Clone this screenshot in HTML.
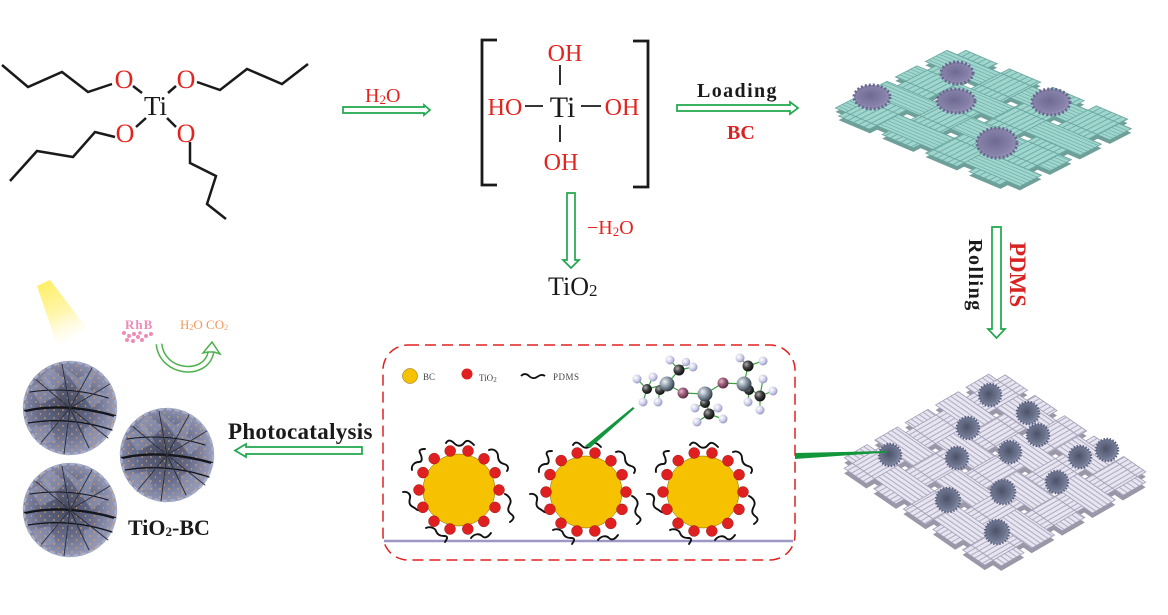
<!DOCTYPE html>
<html><head><meta charset="utf-8"><style>
html,body{margin:0;padding:0;background:#fff;}
body{width:1168px;height:615px;overflow:hidden;}
svg{display:block;font-family:"Liberation Serif",serif;}
</style></head><body>
<svg width="1168" height="615" viewBox="0 0 1168 615" xmlns="http://www.w3.org/2000/svg">
<defs>
  <pattern id="tH" patternUnits="userSpaceOnUse" width="10" height="3"><rect width="10" height="3" fill="#9fd6ce"/><rect y="2.3" width="10" height="0.7" fill="#72afa8"/></pattern>
  <pattern id="tV" patternUnits="userSpaceOnUse" width="3" height="10"><rect width="3" height="10" fill="#9fd6ce"/><rect x="2.3" width="0.7" height="10" fill="#72afa8"/></pattern>
  <pattern id="bH" patternUnits="userSpaceOnUse" width="10" height="2.6"><rect width="10" height="2.6" fill="#e8e5f2"/><rect y="1.95" width="10" height="0.65" fill="#aeabbe"/></pattern>
  <pattern id="bV" patternUnits="userSpaceOnUse" width="2.6" height="10"><rect width="2.6" height="10" fill="#e8e5f2"/><rect x="1.95" width="0.65" height="10" fill="#aeabbe"/></pattern>
  <pattern id="dots" patternUnits="userSpaceOnUse" width="9" height="8"><circle cx="2" cy="2" r="0.8" fill="#e8a866"/><circle cx="6.5" cy="6" r="0.7" fill="#e0a060"/></pattern>
  <radialGradient id="ballG" cx="45%" cy="48%" r="55%"><stop offset="0" stop-color="#464b60"/><stop offset="0.55" stop-color="#666c8a"/><stop offset="1" stop-color="#989ebb"/></radialGradient>
  <radialGradient id="siG" cx="35%" cy="35%" r="65%"><stop offset="0" stop-color="#f0f4f8"/><stop offset="0.5" stop-color="#8c9aa8"/><stop offset="1" stop-color="#3a4450"/></radialGradient>
  <radialGradient id="cG" cx="35%" cy="35%" r="65%"><stop offset="0" stop-color="#b0b0b0"/><stop offset="0.5" stop-color="#404040"/><stop offset="1" stop-color="#101010"/></radialGradient>
  <radialGradient id="oG" cx="35%" cy="35%" r="65%"><stop offset="0" stop-color="#e6b8cc"/><stop offset="0.5" stop-color="#9c5c7a"/><stop offset="1" stop-color="#5a3045"/></radialGradient>
  <radialGradient id="hG" cx="35%" cy="35%" r="65%"><stop offset="0" stop-color="#ffffff"/><stop offset="0.6" stop-color="#cfcfea"/><stop offset="1" stop-color="#9a9ac6"/></radialGradient>
  <radialGradient id="clG" cx="45%" cy="45%" r="60%"><stop offset="0" stop-color="#6e6a92"/><stop offset="0.7" stop-color="#8682aa"/><stop offset="1" stop-color="#9c98bc"/></radialGradient>
  <radialGradient id="cl2G" cx="45%" cy="45%" r="60%"><stop offset="0" stop-color="#4c5268"/><stop offset="0.7" stop-color="#707892"/><stop offset="1" stop-color="#9aa0b8"/></radialGradient>
  <linearGradient id="beam" x1="44" y1="284" x2="72" y2="345" gradientUnits="userSpaceOnUse"><stop offset="0" stop-color="#ffef6a"/><stop offset="0.5" stop-color="#fff6b0"/><stop offset="1" stop-color="#fffbe8" stop-opacity="0"/></linearGradient>

  <g id="ball">
    <circle r="47" fill="url(#ballG)"/>
    <path d="M-10,-44 L8,-30 L26,-38 L20,-18 L38,-14 L22,0 Z" fill="#959bb8" opacity="0.6"/>
    <path d="M-40,-20 L-22,-30 L-12,-12 L-30,-4 Z" fill="#959bb8" opacity="0.55"/>
    <path d="M-38,20 L-20,16 L-14,34 L-30,36 Z" fill="#959bb8" opacity="0.55"/>
    <path d="M14,20 L32,16 L30,34 L14,38 Z" fill="#959bb8" opacity="0.5"/>
    <path d="M-20,-40 L-4,-28 L-16,-16 L-30,-30 Z" fill="#a0a6c2" opacity="0.5"/>
    <circle r="47" fill="url(#dots)"/>
    <g stroke="#15161c" fill="none" stroke-linecap="round">
      <path d="M-45,3 Q-5,-6 45,8" stroke-width="2.4"/>
      <path d="M-42,15 Q0,8 42,22" stroke-width="1.3"/>
      <path d="M-40,-16 Q0,-22 38,-10" stroke-width="1.1"/>
      <path d="M0,0 L-8,-44 M0,0 L22,-40 M0,0 L40,-24 M0,0 L-36,-30 M0,0 L-30,36 M0,0 L-6,46 M0,0 L20,42 M0,0 L38,30" stroke-width="0.9" stroke="#2a2d3a"/>
    </g>
    <circle r="46" fill="none" stroke="#a8aec8" stroke-width="2.5" stroke-dasharray="5 3"/>
  </g>

  <g id="part">
    <g fill="none" stroke="#111" stroke-width="1.9" stroke-linecap="round">
      <path d="M-13,-47 c3,-5 7,-1 9,1 s6,3 9,-1 s6,-2 10,2"/>
      <path d="M30,-40 c5,-2 9,2 9,6 s2,7 6,8 s5,4 3,7"/>
      <path d="M46,4 c4,2 7,6 5,10 s-3,7 1,10 s3,5 -1,8"/>
      <path d="M12,48 c3,-4 8,-5 11,-2 s6,1 9,-3"/>
      <path d="M-33,38 c4,-2 9,0 10,3 s3,5 8,5 s3,3 1,6"/>
      <path d="M-56,2 c4,-1 8,2 7,6 s-1,7 3,9 s4,4 7,3"/>
      <path d="M-47,-20 c-1,-5 3,-8 7,-8 s3,-5 1,-9 s3,-4 5,-4"/>
    </g>
    <circle r="36" fill="#f6c200" stroke="#7a6000" stroke-width="0.5"/>
    <g fill="#e02020" stroke="#801010" stroke-width="0.4">
      <circle cx="9" cy="-39" r="5.5"/><circle cx="25" cy="-31.2" r="5.5"/><circle cx="36.1" cy="-17.3" r="5.5"/><circle cx="40" cy="0" r="5.5"/><circle cx="36" cy="17.4" r="5.5"/><circle cx="24.8" cy="31.4" r="5.5"/><circle cx="8.8" cy="39" r="5.5"/><circle cx="-9" cy="39" r="5.5"/><circle cx="-25" cy="31.2" r="5.5"/><circle cx="-36.1" cy="17.3" r="5.5"/><circle cx="-40" cy="0" r="5.5"/><circle cx="-36" cy="-17.4" r="5.5"/><circle cx="-24.8" cy="-31.4" r="5.5"/><circle cx="-8.8" cy="-39" r="5.5"/>
    </g>
  </g>
</defs>

<!-- ===== Top-left molecule ===== -->
<g stroke="#1a1a1a" stroke-width="2.5" fill="none" stroke-linejoin="miter">
  <polyline points="2,65 28,87 62,72 88,92 112,84"/>
  <polyline points="197,82 220,90 247,69 282,84 308,64"/>
  <polyline points="115,137 95,132 73,157 37,151 10,181"/>
  <polyline points="190,142 190,163 216,176 207,204 226,219"/>
  <line x1="133" y1="86" x2="142" y2="93"/>
  <line x1="168" y1="93" x2="176" y2="86"/>
  <line x1="136" y1="127" x2="146" y2="118"/>
  <line x1="167" y1="118" x2="176" y2="127"/>
</g>
<g font-size="26" text-anchor="middle" fill="#e2231e">
  <text x="124" y="88">O</text>
  <text x="186" y="88">O</text>
  <text x="125" y="142">O</text>
  <text x="186" y="142">O</text>
</g>
<text x="155.5" y="115" font-size="27" text-anchor="middle" fill="#1a1a1a">Ti</text>

<!-- H2O arrow -->
<text x="365" y="102" font-size="20" fill="#e2231e">H<tspan font-size="13" dy="2">2</tspan><tspan dy="-2">O</tspan></text>
<polygon points="343,107 424,107 424,105 430,110 424,115 424,113 343,113" fill="#fff" stroke="#1ea84b" stroke-width="1.7"/>

<!-- Ti(OH)4 -->
<g stroke="#1a1a1a" stroke-width="2.8" fill="none">
  <polyline points="497,40 482,40 482,185 497,185"/>
  <polyline points="633,41 648,41 648,187 633,187"/>
</g>
<g stroke="#1a1a1a" stroke-width="1.8">
  <line x1="560" y1="65" x2="560" y2="85"/>
  <line x1="560" y1="125" x2="560" y2="142"/>
  <line x1="525" y1="106" x2="543" y2="106"/>
  <line x1="581" y1="106" x2="601" y2="106"/>
</g>
<g font-size="24" fill="#e2231e">
  <text x="565" y="61" text-anchor="middle">OH</text>
  <text x="505" y="115" text-anchor="middle">HO</text>
  <text x="622" y="115" text-anchor="middle">OH</text>
  <text x="561" y="170" text-anchor="middle">OH</text>
</g>
<text x="562.5" y="117" font-size="30" text-anchor="middle" fill="#1a1a1a">Ti</text>

<!-- down arrow to TiO2 -->
<polygon points="567,193 575,193 575,260 579,260 571,268 563,260 567,260" fill="#fff" stroke="#1ea84b" stroke-width="1.7"/>
<text x="587" y="234" font-size="20" fill="#e2231e">−H<tspan font-size="13" dy="2">2</tspan><tspan dy="-2">O</tspan></text>
<text x="548" y="295" font-size="26" fill="#1a1a1a">TiO<tspan font-size="17" dy="1">2</tspan></text>

<!-- Loading arrow -->
<text x="697" y="97" font-size="20" font-weight="bold" letter-spacing="1.4" fill="#1a1a1a">Loading</text>
<polygon points="677,105 790,105 790,102 798,108 790,114 790,111 677,111" fill="#fff" stroke="#1ea84b" stroke-width="1.7"/>
<text x="727" y="139" font-size="20" font-weight="bold" fill="#d92222">BC</text>

<!-- ===== Top fabric ===== -->
<g transform="translate(0,4) matrix(1.2,-0.62,1.74,0.74,837,112)" fill="#6f9f99">
  <rect x="-3" y="3" width="106" height="18"/><rect x="-3" y="28" width="106" height="18"/><rect x="-3" y="53" width="106" height="18"/><rect x="-3" y="78" width="106" height="18"/>
  <rect x="3" y="-3" width="18" height="106"/><rect x="28" y="-3" width="18" height="106"/><rect x="53" y="-3" width="18" height="106"/><rect x="78" y="-3" width="18" height="106"/>
</g>
<g transform="matrix(1.2,-0.62,1.74,0.74,837,112)" stroke="#6aa59e" stroke-width="0.8">
  <g fill="url(#tH)">
    <rect x="-3" y="3" width="106" height="18" vector-effect="non-scaling-stroke"/><rect x="-3" y="28" width="106" height="18" vector-effect="non-scaling-stroke"/><rect x="-3" y="53" width="106" height="18" vector-effect="non-scaling-stroke"/><rect x="-3" y="78" width="106" height="18" vector-effect="non-scaling-stroke"/>
  </g>
  <g fill="url(#tV)">
    <rect x="3" y="-3" width="18" height="106" vector-effect="non-scaling-stroke"/><rect x="28" y="-3" width="18" height="106" vector-effect="non-scaling-stroke"/><rect x="53" y="-3" width="18" height="106" vector-effect="non-scaling-stroke"/><rect x="78" y="-3" width="18" height="106" vector-effect="non-scaling-stroke"/>
  </g>
  <g fill="url(#tH)">
    <rect x="3" y="3" width="18" height="18" vector-effect="non-scaling-stroke"/><rect x="53" y="3" width="18" height="18" vector-effect="non-scaling-stroke"/>
    <rect x="28" y="28" width="18" height="18" vector-effect="non-scaling-stroke"/><rect x="78" y="28" width="18" height="18" vector-effect="non-scaling-stroke"/>
    <rect x="3" y="53" width="18" height="18" vector-effect="non-scaling-stroke"/><rect x="53" y="53" width="18" height="18" vector-effect="non-scaling-stroke"/>
    <rect x="28" y="78" width="18" height="18" vector-effect="non-scaling-stroke"/><rect x="78" y="78" width="18" height="18" vector-effect="non-scaling-stroke"/>
  </g>
</g>
<g fill="url(#clG)" stroke="#6a668e" stroke-width="3" stroke-dasharray="2 2">
  <ellipse cx="957" cy="73" rx="16" ry="11"/>
  <ellipse cx="872" cy="97" rx="18" ry="12"/>
  <ellipse cx="956" cy="101" rx="19" ry="12"/>
  <ellipse cx="1051" cy="102" rx="19" ry="13"/>
  <ellipse cx="997" cy="143" rx="20" ry="15"/>
</g>

<!-- PDMS / Rolling arrow -->
<polygon points="992,227 1001,227 1001,329 1005,329 996.5,338 988,329 992,329" fill="#fff" stroke="#1ea84b" stroke-width="1.7"/>
<text transform="translate(969,239) rotate(90)" font-size="20" font-weight="bold" letter-spacing="1.5" fill="#1a1a1a">Rolling</text>
<text transform="translate(1010,242) rotate(90)" font-size="23" font-weight="bold" fill="#d92222">PDMS</text>

<!-- ===== Bottom fabric ===== -->
<g transform="translate(0,5) matrix(1.52,-0.88,1.48,1.02,845,463)" fill="#9a98a8">
  <rect x="-3" y="2.5" width="106" height="15"/><rect x="-3" y="22.5" width="106" height="15"/><rect x="-3" y="42.5" width="106" height="15"/><rect x="-3" y="62.5" width="106" height="15"/><rect x="-3" y="82.5" width="106" height="15"/>
  <rect x="2.5" y="-3" width="15" height="106"/><rect x="22.5" y="-3" width="15" height="106"/><rect x="42.5" y="-3" width="15" height="106"/><rect x="62.5" y="-3" width="15" height="106"/><rect x="82.5" y="-3" width="15" height="106"/>
</g>
<g transform="matrix(1.52,-0.88,1.48,1.02,845,463)" stroke="#a29eb4" stroke-width="0.8">
  <g fill="url(#bH)">
    <rect x="-3" y="2.5" width="106" height="15" vector-effect="non-scaling-stroke"/><rect x="-3" y="22.5" width="106" height="15" vector-effect="non-scaling-stroke"/><rect x="-3" y="42.5" width="106" height="15" vector-effect="non-scaling-stroke"/><rect x="-3" y="62.5" width="106" height="15" vector-effect="non-scaling-stroke"/><rect x="-3" y="82.5" width="106" height="15" vector-effect="non-scaling-stroke"/>
  </g>
  <g fill="url(#bV)">
    <rect x="2.5" y="-3" width="15" height="106" vector-effect="non-scaling-stroke"/><rect x="22.5" y="-3" width="15" height="106" vector-effect="non-scaling-stroke"/><rect x="42.5" y="-3" width="15" height="106" vector-effect="non-scaling-stroke"/><rect x="62.5" y="-3" width="15" height="106" vector-effect="non-scaling-stroke"/><rect x="82.5" y="-3" width="15" height="106" vector-effect="non-scaling-stroke"/>
  </g>
  <g fill="url(#bH)">
    <rect x="2.5" y="2.5" width="15" height="15" vector-effect="non-scaling-stroke"/><rect x="42.5" y="2.5" width="15" height="15" vector-effect="non-scaling-stroke"/><rect x="82.5" y="2.5" width="15" height="15" vector-effect="non-scaling-stroke"/>
    <rect x="22.5" y="22.5" width="15" height="15" vector-effect="non-scaling-stroke"/><rect x="62.5" y="22.5" width="15" height="15" vector-effect="non-scaling-stroke"/>
    <rect x="2.5" y="42.5" width="15" height="15" vector-effect="non-scaling-stroke"/><rect x="42.5" y="42.5" width="15" height="15" vector-effect="non-scaling-stroke"/><rect x="82.5" y="42.5" width="15" height="15" vector-effect="non-scaling-stroke"/>
    <rect x="22.5" y="62.5" width="15" height="15" vector-effect="non-scaling-stroke"/><rect x="62.5" y="62.5" width="15" height="15" vector-effect="non-scaling-stroke"/>
    <rect x="2.5" y="82.5" width="15" height="15" vector-effect="non-scaling-stroke"/><rect x="42.5" y="82.5" width="15" height="15" vector-effect="non-scaling-stroke"/><rect x="82.5" y="82.5" width="15" height="15" vector-effect="non-scaling-stroke"/>
  </g>
</g>
<g fill="url(#cl2G)" stroke="#5c6280" stroke-width="2.5" stroke-dasharray="1.5 1.5">
  <circle cx="990" cy="395" r="11"/><circle cx="1028" cy="413" r="11"/><circle cx="968" cy="428" r="11"/><circle cx="1038" cy="435" r="11"/>
  <circle cx="890" cy="455" r="11"/><circle cx="957" cy="458" r="11"/><circle cx="1010" cy="452" r="11"/><circle cx="1080" cy="457" r="11"/>
  <circle cx="1107" cy="450" r="11"/><circle cx="1057" cy="482" r="11"/><circle cx="948" cy="500" r="12"/><circle cx="1003" cy="492" r="12"/><circle cx="997" cy="532" r="12"/>
</g>

<!-- green pointer from box to fabric -->
<polygon points="795,453 887,451 887,452.5 795,459" fill="#12963c"/>

<!-- ===== Dashed box ===== -->
<rect x="383" y="345" width="412" height="215" rx="25" ry="25" fill="none" stroke="#e02020" stroke-width="1.5" stroke-dasharray="11 6"/>
<line x1="384" y1="541" x2="793" y2="541" stroke="#9d97c6" stroke-width="2.5"/>
<circle cx="410" cy="376" r="7.5" fill="#f6c200" stroke="#7a6000" stroke-width="0.5"/>
<text x="423" y="380" font-size="9" fill="#444">BC</text>
<circle cx="467" cy="374" r="5.5" fill="#e02020"/>
<text x="479" y="381" font-size="9" fill="#444">TiO<tspan font-size="7" dy="1">2</tspan></text>
<path d="M521,376 c3,-3 6,-2 8,0 s5,3 8,1 s5,-3 8,-1" fill="none" stroke="#111" stroke-width="1.9"/>
<text x="553" y="380" font-size="9" fill="#444" letter-spacing="0.5">PDMS</text>

<use href="#part" x="459" y="490"/>
<use href="#part" x="586" y="492"/>
<use href="#part" x="703" y="492"/>

<!-- pointer to molecule -->
<polygon points="633,407 634.5,408.5 590,448 585,446" fill="#12963c"/>

<!-- PDMS molecule -->
<g stroke="#3aa040" stroke-width="1.2">
  <line x1="667" y1="384" x2="683" y2="393"/><line x1="683" y1="393" x2="705" y2="394"/><line x1="705" y1="394" x2="723" y2="383"/><line x1="723" y1="383" x2="744" y2="384"/>
  <line x1="667" y1="384" x2="679" y2="370"/><line x1="667" y1="384" x2="647" y2="389"/><line x1="667" y1="384" x2="660" y2="390"/>
  <line x1="705" y1="394" x2="705" y2="403"/><line x1="705" y1="394" x2="709" y2="414"/>
  <line x1="744" y1="384" x2="748" y2="366"/><line x1="744" y1="384" x2="760" y2="396"/><line x1="744" y1="384" x2="749" y2="390"/>
  <line x1="679" y1="370" x2="670" y2="360"/><line x1="679" y1="370" x2="693" y2="367"/><line x1="679" y1="370" x2="686" y2="362"/>
  <line x1="647" y1="389" x2="637" y2="379"/><line x1="647" y1="389" x2="653" y2="377"/><line x1="647" y1="389" x2="643" y2="402"/><line x1="660" y1="390" x2="658" y2="402"/>
  <line x1="705" y1="403" x2="695" y2="408"/><line x1="709" y1="414" x2="697" y2="422"/><line x1="709" y1="414" x2="718" y2="408"/><line x1="709" y1="414" x2="723" y2="419"/>
  <line x1="748" y1="366" x2="740" y2="358"/><line x1="748" y1="366" x2="763" y2="361"/><line x1="760" y1="396" x2="763" y2="379"/><line x1="760" y1="396" x2="773" y2="391"/><line x1="749" y1="390" x2="748" y2="402"/><line x1="760" y1="396" x2="760" y2="410"/>
</g>
<g fill="url(#hG)">
  <circle cx="670" cy="360" r="4.5"/><circle cx="693" cy="367" r="4.5"/><circle cx="686" cy="362" r="4.2"/>
  <circle cx="637" cy="379" r="4.5"/><circle cx="653" cy="377" r="4.5"/><circle cx="643" cy="402" r="4.5"/><circle cx="658" cy="402" r="4.5"/>
  <circle cx="695" cy="408" r="4.5"/><circle cx="697" cy="422" r="4.5"/><circle cx="718" cy="408" r="4.5"/><circle cx="723" cy="419" r="4.5"/>
  <circle cx="740" cy="358" r="4.5"/><circle cx="763" cy="361" r="4.5"/><circle cx="763" cy="379" r="4.5"/><circle cx="773" cy="391" r="4.5"/><circle cx="748" cy="402" r="4.5"/><circle cx="760" cy="410" r="4.5"/>
</g>
<g fill="url(#cG)">
  <circle cx="679" cy="370" r="5.5"/><circle cx="647" cy="389" r="5"/><circle cx="660" cy="390" r="5"/>
  <circle cx="705" cy="403" r="5"/><circle cx="709" cy="414" r="5.5"/>
  <circle cx="748" cy="366" r="5.5"/><circle cx="760" cy="396" r="5.5"/><circle cx="749" cy="390" r="5"/>
</g>
<g fill="url(#oG)"><circle cx="683" cy="393" r="5.5"/><circle cx="723" cy="383" r="5.5"/></g>
<g fill="url(#siG)"><circle cx="667" cy="384" r="7.5"/><circle cx="705" cy="394" r="7.5"/><circle cx="744" cy="384" r="7.5"/></g>

<!-- ===== Photocatalysis ===== -->
<text x="228" y="439" font-size="23" font-weight="bold" letter-spacing="0.3" fill="#1a1a1a">Photocatalysis</text>
<polygon points="362,447 246,447 246,444 235,450.5 246,457 246,454 362,454" fill="#fff" stroke="#1ea84b" stroke-width="1.7"/>

<!-- light beam -->
<polygon points="37,286 50,280 86,327 58,348" fill="url(#beam)"/>

<!-- RhB -->
<text x="125" y="329" font-size="13" font-weight="bold" letter-spacing="1" fill="#f08ab8">RhB</text>
<g fill="#f08ab8">
  <circle cx="124" cy="333" r="2"/><circle cx="129" cy="336" r="2"/><circle cx="134" cy="334" r="2"/><circle cx="127" cy="340" r="2"/><circle cx="133" cy="341" r="2"/><circle cx="138" cy="337" r="2"/><circle cx="142" cy="340" r="2"/><circle cx="146" cy="336" r="2"/><circle cx="151" cy="334" r="2"/><circle cx="140" cy="333" r="1.8"/>
</g>
<text x="180" y="329" font-size="13" fill="#f0985a">H<tspan font-size="8" dy="1">2</tspan><tspan dy="-1">O  CO</tspan><tspan font-size="8" dy="1">2</tspan></text>
<path d="M159,344 C162,374 206,378 211,352" fill="none" stroke="#4cb04c" stroke-width="7"/>
<path d="M159,344 C162,374 206,378 211,352" fill="none" stroke="#fff" stroke-width="4"/>
<polygon points="203,353 212,342 220,354 214,352 208,352" fill="#fff" stroke="#4cb04c" stroke-width="1.5"/>

<!-- TiO2-BC spheres -->
<use href="#ball" x="70" y="408"/>
<use href="#ball" x="70" y="510"/>
<use href="#ball" x="167" y="455"/>
<text x="128" y="535" font-size="22" font-weight="bold" fill="#1a1a1a">TiO<tspan font-size="13" dy="1">2</tspan><tspan dy="-1">-BC</tspan></text>
</svg>
</body></html>
